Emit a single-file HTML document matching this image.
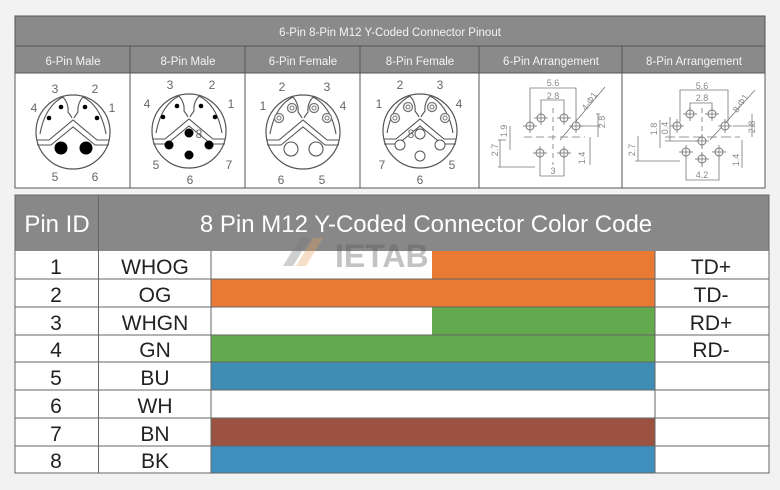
<!DOCTYPE html>
<html><head><meta charset="utf-8"><style>
html,body{margin:0;padding:0;background:#f2f2f2;}
svg{display:block;font-family:"Liberation Sans",sans-serif;}
</style></head><body>
<svg width="780" height="490" viewBox="0 0 780 490" xmlns="http://www.w3.org/2000/svg">
<defs>
<g id="body">
  <circle r="37" fill="#fff" stroke="#555" stroke-width="1.2"/>
  <polyline points="-36,8 -24,8 0,-12 24,8 36,8" fill="none" stroke="#555" stroke-width="1.1"/>
  <polyline points="-36,13 -22,13 0,-5 22,13 36,13" fill="none" stroke="#555" stroke-width="1.1"/>
  <path d="M-33,2 Q-28,-26 -10,-35 Q-4,-28 -5,-20 Q-2,-16 -1,-14" fill="none" stroke="#555" stroke-width="1.1"/>
  <path d="M33,2 Q28,-26 10,-35 Q4,-28 5,-20 Q2,-16 1,-14" fill="none" stroke="#555" stroke-width="1.1"/>
</g>
<g id="fpin"><circle r="4.5" fill="#fff" stroke="#777" stroke-width="1.3"/><circle r="2" fill="none" stroke="#777" stroke-width="1"/></g>
<g id="apin"><circle r="4" fill="#fff" stroke="#777" stroke-width="1"/><line x1="-7" y1="0" x2="7" y2="0" stroke="#777" stroke-width="0.8"/><line x1="0" y1="-7" x2="0" y2="7" stroke="#777" stroke-width="0.8"/></g>
</defs>

<!-- top table -->
<rect x="15" y="16" width="750" height="172" fill="#fff" stroke="#555" stroke-width="1"/>
<rect x="15" y="16" width="750" height="30" fill="#8a8a8a"/>
<rect x="15" y="46" width="750" height="27" fill="#8a8a8a"/>
<line x1="15" y1="46" x2="765" y2="46" stroke="#555"/>
<line x1="15" y1="73" x2="765" y2="73" stroke="#555"/>
<g stroke="#555" stroke-width="1">
<line x1="130" y1="46" x2="130" y2="188"/><line x1="245" y1="46" x2="245" y2="188"/>
<line x1="360" y1="46" x2="360" y2="188"/><line x1="479" y1="46" x2="479" y2="188"/>
<line x1="622" y1="46" x2="622" y2="188"/>
</g>
<rect x="15" y="16" width="750" height="172" fill="none" stroke="#555"/>
<g fill="#f4f4f4" font-size="11.5" text-anchor="middle">
<text x="390" y="36">6-Pin 8-Pin M12 Y-Coded Connector Pinout</text>
<text x="73" y="65">6-Pin Male</text><text x="188" y="65">8-Pin Male</text>
<text x="303" y="65">6-Pin Female</text><text x="420" y="65">8-Pin Female</text>
<text x="551" y="65">6-Pin Arrangement</text><text x="694" y="65">8-Pin Arrangement</text>
</g>

<!-- 6 pin male -->
<g transform="translate(73,132)"><use href="#body"/>
<circle cx="-12" cy="-25" r="2.3" fill="#000"/><circle cx="12" cy="-25" r="2.3" fill="#000"/>
<circle cx="-24" cy="-14" r="2.3" fill="#000"/><circle cx="24" cy="-14" r="2.3" fill="#000"/>
<circle cx="-12" cy="16" r="6.5" fill="#000"/><circle cx="13" cy="16" r="6.5" fill="#000"/></g>
<g fill="#666" font-size="12" text-anchor="middle">
<text x="55" y="93">3</text><text x="95" y="93">2</text><text x="34" y="112">4</text><text x="112" y="112">1</text>
<text x="55" y="181">5</text><text x="95" y="181">6</text></g>

<!-- 8 pin male -->
<g transform="translate(189,131)"><use href="#body"/>
<circle cx="-12" cy="-25" r="2.3" fill="#000"/><circle cx="12" cy="-25" r="2.3" fill="#000"/>
<circle cx="-26" cy="-14" r="2.3" fill="#000"/><circle cx="26" cy="-14" r="2.3" fill="#000"/>
<circle cx="0" cy="2" r="4.5" fill="#000"/><circle cx="-20" cy="14" r="4.5" fill="#000"/>
<circle cx="20" cy="14" r="4.5" fill="#000"/><circle cx="0" cy="24" r="4.5" fill="#000"/></g>
<g fill="#666" font-size="12" text-anchor="middle">
<text x="170" y="89">3</text><text x="212" y="89">2</text><text x="147" y="108">4</text><text x="231" y="108">1</text>
<text x="199" y="138">8</text><text x="156" y="169">5</text><text x="229" y="169">7</text><text x="190" y="184">6</text></g>

<!-- 6 pin female -->
<g transform="translate(303,132)"><use href="#body"/>
<use href="#fpin" x="-11" y="-24"/><use href="#fpin" x="11" y="-24"/>
<use href="#fpin" x="-24" y="-14"/><use href="#fpin" x="24" y="-14"/>
<circle cx="-12" cy="17" r="7" fill="#fff" stroke="#555" stroke-width="1.1"/>
<circle cx="13" cy="17" r="7" fill="#fff" stroke="#555" stroke-width="1.1"/></g>
<g fill="#666" font-size="12" text-anchor="middle">
<text x="282" y="91">2</text><text x="327" y="91">3</text><text x="263" y="110">1</text><text x="343" y="110">4</text>
<text x="281" y="184">6</text><text x="322" y="184">5</text></g>

<!-- 8 pin female -->
<g transform="translate(420,131)"><use href="#body"/>
<use href="#fpin" x="-12" y="-24"/><use href="#fpin" x="12" y="-24"/>
<use href="#fpin" x="-25" y="-13"/><use href="#fpin" x="25" y="-13"/>
<circle cx="0" cy="3" r="5" fill="#fff" stroke="#555"/><circle cx="-20" cy="14" r="5" fill="#fff" stroke="#555"/>
<circle cx="20" cy="14" r="5" fill="#fff" stroke="#555"/><circle cx="0" cy="25" r="5" fill="#fff" stroke="#555"/></g>
<g fill="#666" font-size="12" text-anchor="middle">
<text x="400" y="89">2</text><text x="440" y="89">3</text><text x="379" y="108">1</text><text x="459" y="108">4</text>
<text x="411" y="138">8</text><text x="382" y="169">7</text><text x="452" y="169">5</text><text x="420" y="184">6</text></g>

<!-- 6 pin arrangement -->
<g stroke="#777" stroke-width="0.8" fill="none">
<polyline points="530,122 530,88 576,88 576,122"/><polyline points="541,114 541,100 564,100 564,114"/>
<line x1="524" y1="137" x2="585" y2="137" stroke-dasharray="8,4"/><line x1="553" y1="108" x2="553" y2="165" stroke-dasharray="5,4"/>
<line x1="510" y1="126" x2="510" y2="150"/><line x1="500" y1="140" x2="500" y2="167"/>
<polyline points="580,126 600,126"/><line x1="596" y1="114" x2="600" y2="114"/><line x1="598" y1="114" x2="598" y2="137"/>
<line x1="590" y1="137" x2="590" y2="165"/>
<polyline points="540,160 540,176 564,176 564,160"/>
<line x1="560" y1="140" x2="605" y2="87"/>
<line x1="498" y1="167" x2="535" y2="167"/><line x1="498" y1="140" x2="506" y2="140"/>
</g>
<use href="#apin" x="541" y="118"/><use href="#apin" x="564" y="118"/><use href="#apin" x="530" y="126"/>
<use href="#apin" x="576" y="126"/><use href="#apin" x="540" y="153"/><use href="#apin" x="564" y="153"/>
<g fill="#888" font-size="9" text-anchor="middle">
<text x="553" y="86">5.6</text><text x="553" y="99">2.8</text><text x="553" y="174">3</text>
<text transform="translate(507,131) rotate(-90)">1.9</text><text transform="translate(498,150) rotate(-90)">2.7</text>
<text transform="translate(605,122) rotate(-90)">2.8</text><text transform="translate(585,158) rotate(-90)">1.4</text>
<text transform="translate(592,103) rotate(-55)">4-Φ1</text></g>

<!-- 8 pin arrangement -->
<g stroke="#777" stroke-width="0.8" fill="none">
<polyline points="680,122 680,90 728,90 728,122"/><polyline points="690,110 690,103 712,103 712,110"/>
<line x1="665" y1="137" x2="740" y2="137" stroke-dasharray="10,4"/><line x1="702" y1="108" x2="702" y2="170" stroke-dasharray="5,4"/>
<line x1="660" y1="120" x2="660" y2="148"/><line x1="670" y1="117" x2="670" y2="141"/>
<line x1="638" y1="136" x2="638" y2="161"/>
<line x1="635" y1="161" x2="680" y2="161"/><line x1="665" y1="141" x2="700" y2="141"/>
<line x1="733" y1="126" x2="755" y2="126"/><line x1="752" y1="114" x2="752" y2="137"/>
<line x1="742" y1="140" x2="742" y2="168"/>
<polyline points="686,158 686,180 719,180 719,158"/>
<line x1="710" y1="140" x2="755" y2="90"/>
</g>
<use href="#apin" x="690" y="114"/><use href="#apin" x="712" y="114"/><use href="#apin" x="677" y="126"/>
<use href="#apin" x="725" y="126"/><use href="#apin" x="702" y="141"/><use href="#apin" x="686" y="152"/>
<use href="#apin" x="719" y="152"/><use href="#apin" x="702" y="159"/>
<g fill="#888" font-size="9" text-anchor="middle">
<text x="702" y="89">5.6</text><text x="702" y="101">2.8</text><text x="702" y="178">4.2</text>
<text transform="translate(657,129) rotate(-90)">1.8</text><text transform="translate(668,128) rotate(-90)">0.4</text>
<text transform="translate(635,150) rotate(-90)">2.7</text><text transform="translate(755,127) rotate(-90)">2.8</text>
<text transform="translate(739,160) rotate(-90)">1.4</text>
<text transform="translate(743,105) rotate(-55)">8-Φ1</text></g>

<!-- bottom table -->
<rect x="15" y="195" width="754" height="56" fill="#888"/>
<g font-size="24" fill="#fff" text-anchor="middle">
<text x="57" y="232">Pin ID</text><text x="426" y="232">8 Pin M12 Y-Coded Connector Color Code</text></g>
<rect x="15" y="251" width="754" height="222" fill="#fff"/>
<rect x="432" y="251" width="223" height="28" fill="#e87a33"/>
<rect x="211" y="279" width="444" height="28" fill="#e87a33"/>
<rect x="432" y="307" width="223" height="28" fill="#62aa4d"/>
<rect x="211" y="335" width="444" height="27" fill="#62aa4d"/>
<rect x="211" y="362" width="444" height="28" fill="#3f8db5"/>
<rect x="211" y="418" width="444" height="28" fill="#9c5240"/>
<rect x="211" y="446" width="444" height="27" fill="#3f90bf"/>
<g stroke="#666" stroke-width="1">
<line x1="15" y1="279" x2="769" y2="279"/><line x1="15" y1="307" x2="769" y2="307"/>
<line x1="15" y1="335" x2="769" y2="335"/><line x1="15" y1="362" x2="769" y2="362"/>
<line x1="15" y1="390" x2="769" y2="390"/><line x1="15" y1="418" x2="769" y2="418"/>
<line x1="15" y1="446" x2="769" y2="446"/>
<line x1="98.5" y1="195" x2="98.5" y2="473"/><line x1="211" y1="251" x2="211" y2="473"/>
<line x1="655" y1="251" x2="655" y2="473"/>
</g>
<rect x="15" y="195" width="754" height="278" fill="none" stroke="#666"/>
<g font-size="21" fill="#222" text-anchor="middle">
<text x="56" y="274">1</text><text x="155" y="274">WHOG</text><text x="711" y="274">TD+</text>
<text x="56" y="302">2</text><text x="155" y="302">OG</text><text x="711" y="302">TD-</text>
<text x="56" y="330">3</text><text x="155" y="330">WHGN</text><text x="711" y="330">RD+</text>
<text x="56" y="357">4</text><text x="155" y="357">GN</text><text x="711" y="357">RD-</text>
<text x="56" y="385">5</text><text x="155" y="385">BU</text>
<text x="56" y="413">6</text><text x="155" y="413">WH</text>
<text x="56" y="441">7</text><text x="155" y="441">BN</text>
<text x="56" y="468">8</text><text x="155" y="468">BK</text>
</g>
<!-- watermark -->
<g opacity="0.35">
<polygon points="283,266 300,238 310,238 293,266" fill="#777"/>
<polygon points="296,266 313,238 323,238 306,266" fill="#e8a060"/>
<text x="335" y="267" font-size="32" font-weight="bold" fill="#555">IETAB</text>
</g>
</svg>
</body></html>
